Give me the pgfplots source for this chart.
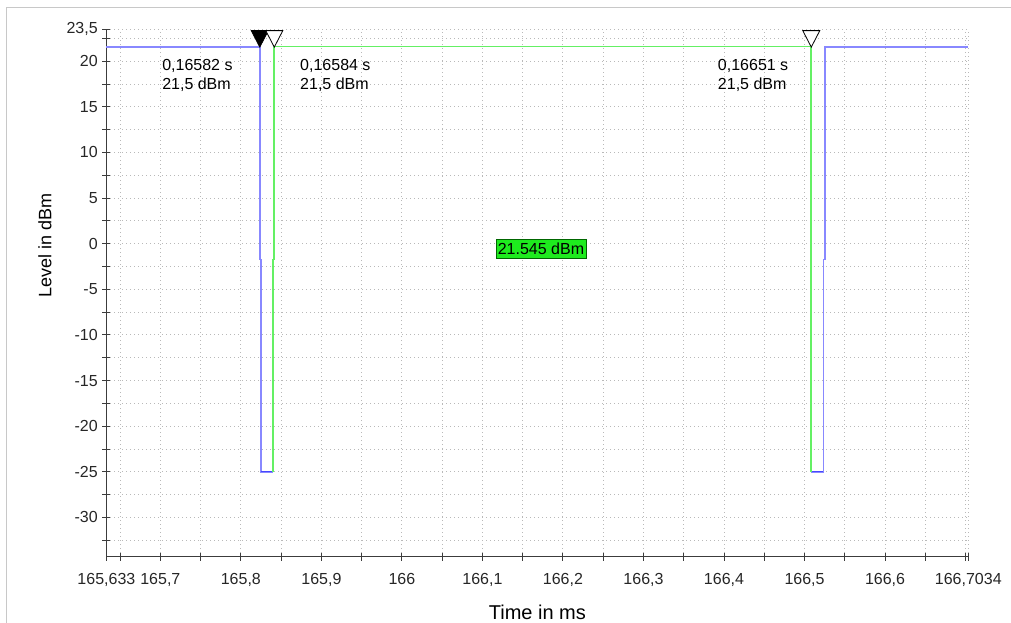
\documentclass[border=0pt]{standalone}
\usepackage{pgfplots}
\pgfplotsset{compat=1.18}
\usepackage{fontspec}
\setmainfont{Liberation Sans}
\definecolor{traceblue}{RGB}{136,136,255}
\definecolor{tracebluedark}{RGB}{70,70,255}
\definecolor{tracegreen}{RGB}{100,240,100}
\definecolor{gridgray}{RGB}{185,185,185}
\definecolor{axisgray}{RGB}{60,60,60}
\definecolor{boxgreen}{RGB}{30,235,30}
\definecolor{framegray}{RGB}{200,200,200}
\pgfdeclareplotmark{dtri}{%
  \pgfpathmoveto{\pgfpoint{0pt}{0pt}}%
  \pgfpathlineto{\pgfpoint{-6.4pt}{12.4pt}}%
  \pgfpathlineto{\pgfpoint{6.4pt}{12.4pt}}%
  \pgfpathclose
  \pgfusepathqfillstroke}
\begin{document}
\begin{tikzpicture}
\useasboundingbox (0,0) rectangle (758.25pt,-467.25pt);
\draw[framegray, line width=1pt] (5pt,-467.25pt) -- (5pt,-5.5pt) -- (758.25pt,-5.5pt);
\begin{axis}[
  at={(79.8pt,-417.525pt)}, anchor=south west,
  scale only axis, width=646.425pt, height=395.55pt,
  xmin=165.633, xmax=166.7034, ymin=-34.3, ymax=23.5,
  axis x line*=bottom, axis y line*=left,
  axis line style={axisgray, line width=0.9pt, -},
  clip=false,
  xtick={165.633,165.7,165.8,165.9,166,166.1,166.2,166.3,166.4,166.5,166.6,166.7,166.7034},
  xticklabels={{165,633},{165,7},{165,8},{165,9},{166},{166,1},{166,2},{166,3},{166,4},{166,5},{166,6},{},{166,7034}},
  minor xtick={165.65,165.75,165.85,165.95,166.05,166.15,166.25,166.35,166.45,166.55,166.65},
  ytick={-30,-25,-20,-15,-10,-5,0,5,10,15,20,23.5},
  yticklabels={-30,-25,-20,-15,-10,-5,0,5,10,15,20,{23,5}},
  minor ytick={-32.5,-27.5,-22.5,-17.5,-12.5,-7.5,-2.5,2.5,7.5,12.5,17.5,22.5},
  tick align=center,
  major tick length=6pt, minor tick length=6pt,
  tick style={axisgray, line width=0.75pt},
  grid=both,
  major grid style={gridgray, line width=0.75pt, dash pattern=on 0.75pt off 2.25pt},
  minor grid style={gridgray, line width=0.75pt, dash pattern=on 0.75pt off 2.25pt},
  ticklabel style={font=\fontsize{12}{14}\selectfont, text=black!85},
  xticklabel style={yshift=-6pt},
  xlabel={Time in ms}, ylabel={Level in dBm},
  xlabel style={at={(axis description cs:0.5,-0.105)}, anchor=center, font=\fontsize{15}{17}\selectfont},
  ylabel style={at={(axis description cs:-0.0712,0.591)}, anchor=center, font=\fontsize{13.5}{16}\selectfont},
]
% blue trace (outside the gated burst)
\addplot[traceblue, line width=1.1pt] coordinates {
  (165.633,21.545) (165.82351,21.545) (165.82351,-1.73) (165.82500,-1.73) (165.82500,-25)
  (165.84028,-25)};
\addplot[traceblue, line width=1.1pt] coordinates {
  (166.50843,-25) (166.52333,-25) (166.52333,-1.73) (166.52544,-1.73)
  (166.52544,21.545) (166.7034,21.545)};
\addplot[tracebluedark, line width=0.75pt] coordinates {(165.82500,-25) (165.84028,-25)};
\addplot[tracebluedark, line width=0.75pt] coordinates {(166.50843,-25) (166.52333,-25)};
% green trace (gated burst)
\addplot[tracegreen, line width=1.3pt] coordinates {
  (165.84028,-25) (165.84028,-1.73) (165.84152,-1.73) (165.84152,21.6)
  (166.50843,21.6) (166.50843,-25)};
% markers
\addplot[only marks, mark=dtri, mark options={fill=black, draw=black, line width=0.6pt}] coordinates {(165.8235,21.545)};
\addplot[only marks, mark=dtri, mark options={fill=white, draw=black, line width=0.6pt}] coordinates {(165.8415,21.545) (166.5084,21.545)};
% marker readouts
\node[anchor=west, align=left, inner sep=0pt, font=\fontsize{12}{14.5}\selectfont] at (axis cs:165.70205,18.46) {0,16582 s\\21,5 dBm};
\node[anchor=west, align=left, inner sep=0pt, font=\fontsize{12}{14.5}\selectfont] at (axis cs:165.8734,18.46) {0,16584 s\\21,5 dBm};
\node[anchor=west, align=left, inner sep=0pt, font=\fontsize{12}{14.5}\selectfont] at (axis cs:166.3922,18.46) {0,16651 s\\21,5 dBm};
% level readout
\node[fill=boxgreen, draw=green!40!black, line width=0.4pt, inner xsep=1.5pt, inner ysep=2.5pt, font=\fontsize{12}{14}\selectfont] at (axis cs:166.1727,-0.57) {21.545 dBm};
\end{axis}
\end{tikzpicture}
\end{document}
